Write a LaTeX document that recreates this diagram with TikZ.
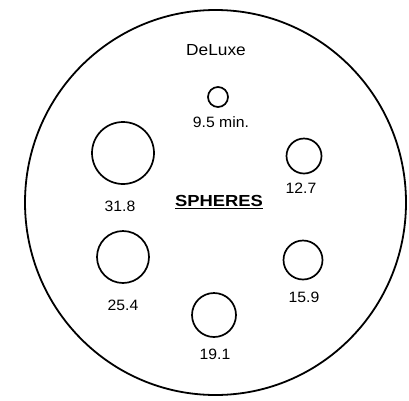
\documentclass[tikz,border=0pt]{standalone}
\usepackage{fontspec}
\setmainfont{Liberation Sans}
\begin{document}
\begin{tikzpicture}[x=1pt,y=-1pt,
  hole/.style={draw,circle,line width=1.7pt,inner sep=0pt},
  lbl/.style={inner sep=0pt,xscale=1.05,font=\fontsize{15}{15}\selectfont}]
\useasboundingbox (0,0) rectangle (409,400);
\draw[line width=1.8pt] (215.5,202.5) ellipse [x radius=190.5, y radius=192.5];
\node[inner sep=0pt,xscale=1.08,font=\fontsize{16}{16}\selectfont] (title) at (216,50) {DeLuxe};
\node[hole,minimum size=20pt] (h95) at (218,97) {};
\node[lbl] (l95) at (221,122) {9.5 min.};
\node[hole,minimum size=62pt] (h318) at (123,153) {};
\node[lbl] (l318) at (120,206) {31.8};
\node[hole,minimum size=35pt] (h127) at (304,156) {};
\node[lbl] (l127) at (301,188) {12.7};
\node[inner sep=0pt,xscale=1.15,font=\bfseries\fontsize{16}{16}\selectfont] (sph) at (219,202) {\underline{SPHERES}};
\node[hole,minimum size=52pt] (h254) at (123,257) {};
\node[lbl] (l254) at (123,305) {25.4};
\node[hole,minimum size=39pt] (h159) at (303,260) {};
\node[lbl] (l159) at (304,297) {15.9};
\node[hole,minimum size=44pt] (h191) at (214,315) {};
\node[lbl] (l191) at (215,354) {19.1};
\end{tikzpicture}
\end{document}
